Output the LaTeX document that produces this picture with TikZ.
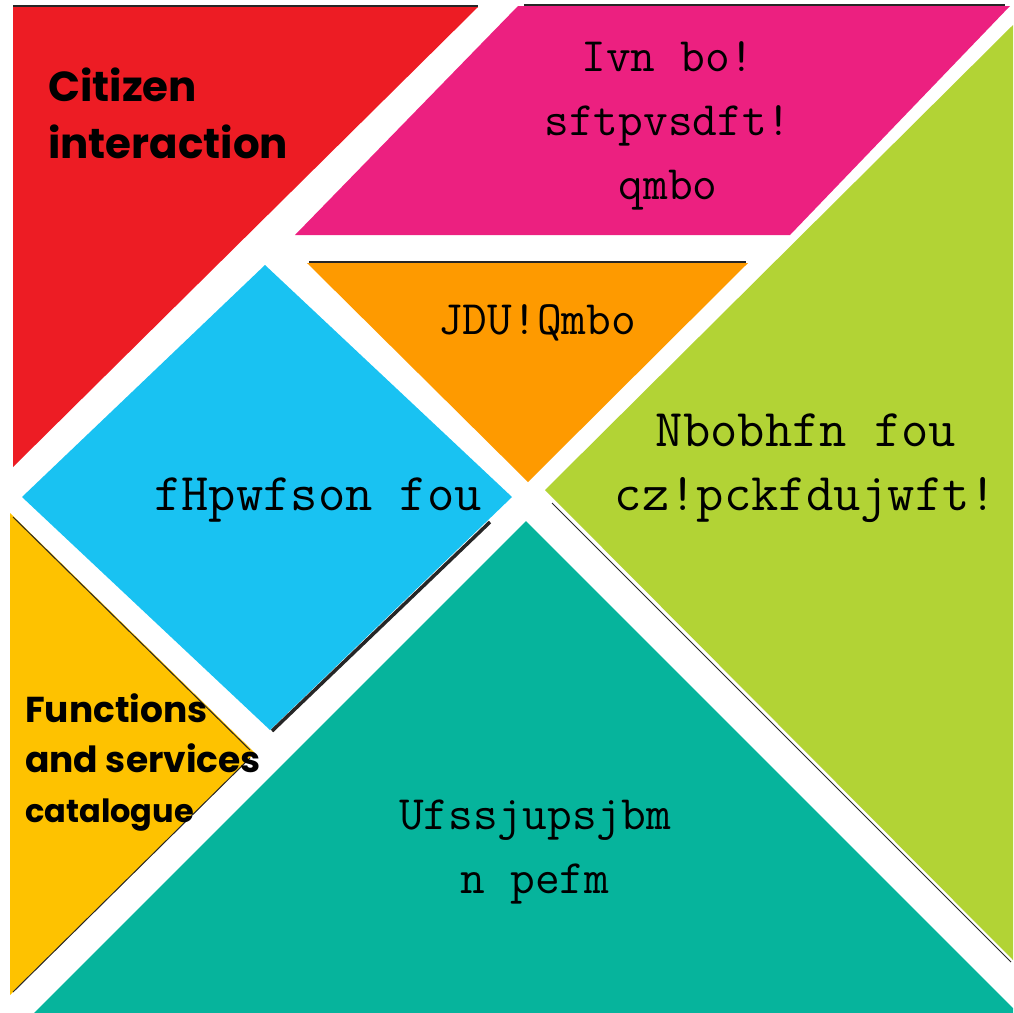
\documentclass[tikz,border=0pt]{standalone}
\usepackage{fontspec}
\newfontfamily\roundfont{Poppins}

\definecolor{redpiece}{HTML}{ED1C24}
\definecolor{pinkpiece}{HTML}{EC2080}
\definecolor{greenpiece}{HTML}{B2D335}
\definecolor{orangepiece}{HTML}{FE9A00}
\definecolor{bluepiece}{HTML}{19C2F2}
\definecolor{yellowpiece}{HTML}{FEC200}
\definecolor{tealpiece}{HTML}{06B49C}

\tikzstyle{shade} = [draw=black!85, line width=2pt]
\tikzstyle{code} = [font=\ttfamily\fontsize{48}{64}\selectfont, align=center, inner sep=0pt]
\tikzstyle{widecode} = [code, font=\ttfamily\fontsize{53}{64}\selectfont]
\tikzstyle{tagtext} = [font=\roundfont\bfseries\fontsize{42}{57}\selectfont, align=left, anchor=west, inner sep=0pt]

\begin{document}
\begin{tikzpicture}[x=1pt,y=-1pt]
\useasboundingbox (0,0) rectangle (1013,1013);
% pieces
\fill[redpiece] (13,7) -- (478,7) -- (13,467) -- cycle;
\fill[pinkpiece] (295,235) -- (518,6) -- (1010,6) -- (790,235) -- cycle;
\fill[greenpiece] (545,490) -- (1013,25) -- (1013,960) -- cycle;
\fill[orangepiece] (307,263) -- (748,263) -- (528,482) -- cycle;
\fill[bluepiece] (265,265) -- (512,497) -- (270,730) -- (22,497) -- cycle;
\fill[yellowpiece] (10,513) -- (255,753) -- (10,995) -- cycle;
\fill[tealpiece] (526,521) -- (1013,1008) -- (1013,1013) -- (34,1013) -- cycle;
% dark edges
\draw[shade] (13,6) -- (478,6);
\draw[shade] (524,5) -- (1005,5);
\draw[shade] (309,262) -- (746,262);
\draw[shade, line width=3.5pt] (490,522) -- (272,731);
\draw[shade, line width=1pt] (13,517) -- (250,750);
\draw[shade, line width=1pt] (13,992) -- (250,758);
\draw[shade, line width=1pt] (552,503) -- (1011,962);

% texts
\node[tagtext] (citizen) at (48,113) {Citizen\\interaction};
\node[tagtext, font=\roundfont\bfseries\fontsize{36}{50}\selectfont] (functions) at (25,762) {Functions\\and services\\{\fontsize{32}{46}\selectfont catalogue}};
\node[code] (human) at (668,126) {Ivn bo!\\sftpvsdft!\\qmbo};
\node[code] (ict) at (537,323) {JDU!Qmbo};
\node[widecode] (manage) at (806,468) {Nbobhfn fou\\cz!pckfdujwft!};
\node[widecode] (egov) at (318,500) {fHpwfson fou};
\node[code] (terr) at (535,852) {Ufssjupsjbm\\n pefm};
\end{tikzpicture}
\end{document}
